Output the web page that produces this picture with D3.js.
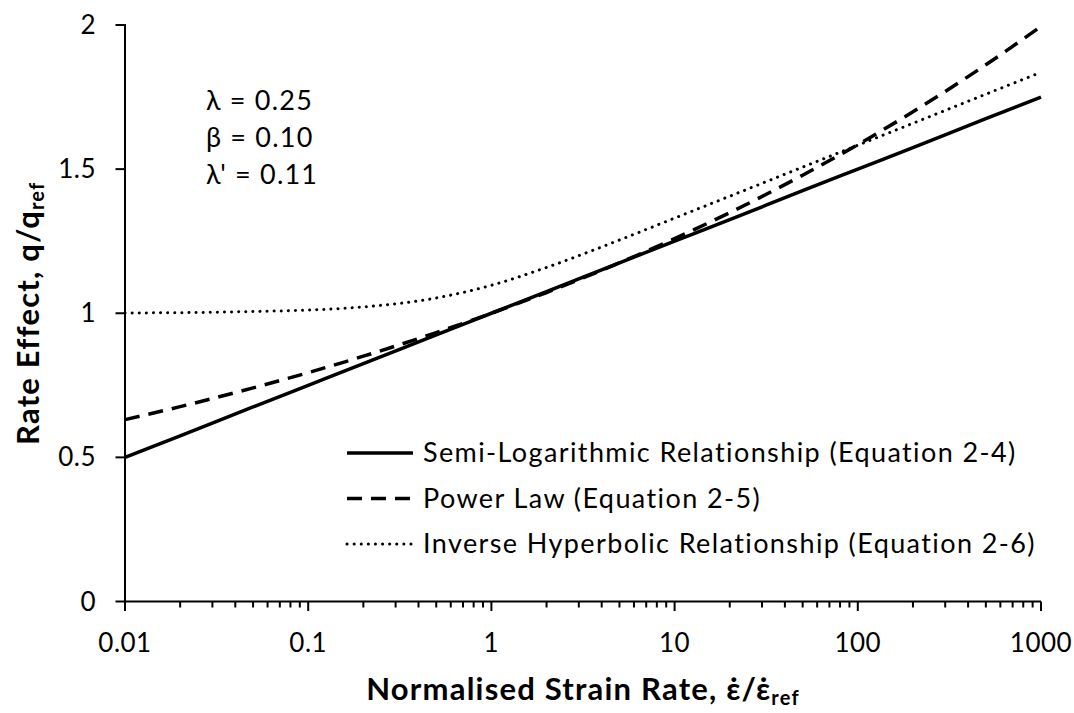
<!DOCTYPE html>
<html>
<head>
<meta charset="utf-8">
<script src="https://cdn.jsdelivr.net/npm/d3@7"></script>
<style>
  html, body { margin: 0; padding: 0; background: #fff; }
  svg { display: block; font-family: Lato, "Open Sans", sans-serif; }
</style>
</head>
<body>
<svg id="chart" width="1074" height="713"></svg>
<script>
// Normalised strain rate values at which each relationship is sampled
const rates = [0.01, 0.02, 0.05, 0.1, 0.2, 0.5, 1, 2, 5, 10, 20, 50, 100, 200, 500, 1000];

// Rate effect q/q_ref for each relationship
const semiLog  = [0.500, 0.575, 0.675, 0.750, 0.825, 0.925, 1.000, 1.075, 1.175, 1.250, 1.325, 1.425, 1.500, 1.575, 1.675, 1.750];
const powerLaw = [0.631, 0.676, 0.741, 0.794, 0.851, 0.933, 1.000, 1.072, 1.175, 1.259, 1.349, 1.479, 1.585, 1.699, 1.862, 1.995];
const invHyper = [1.001, 1.002, 1.006, 1.011, 1.022, 1.053, 1.097, 1.159, 1.254, 1.330, 1.406, 1.507, 1.583, 1.659, 1.760, 1.836];

const seriesNames = [
  "Semi-Logarithmic Relationship (Equation 2-4)",
  "Power Law (Equation 2-5)",
  "Inverse Hyperbolic Relationship (Equation 2-6)"
];

const xTickValues = [0.01, 0.1, 1, 10, 100, 1000];
const xTickLabels = ["0.01", "0.1", "1", "10", "100", "1000"];
const yTickValues = [0, 0.5, 1, 1.5, 2];
const yTickLabels = ["0", "0.5", "1", "1.5", "2"];

const paramLines = ["λ = 0.25", "β = 0.10", "λ' = 0.11"];

const svg = d3.select("#chart");
const plotLeft = 125, plotRight = 1041, plotTop = 25, plotBottom = 601.5;

const x = d3.scaleLog().domain([0.01, 1000]).range([plotLeft, plotRight]);
const y = d3.scaleLinear().domain([0, 2]).range([plotBottom, plotTop]);

// Minor ticks at 2..9 within each decade
const minorTicks = [];
for (let d = 0.01; d < 1000; d *= 10) {
  for (let k = 2; k <= 9; k++) minorTicks.push(+(d * k).toPrecision(6));
}

// x axis
const gx = svg.append("g").attr("transform", `translate(0,${plotBottom})`);
gx.append("line").attr("x1", plotLeft).attr("x2", plotRight).attr("stroke", "#000").attr("stroke-width", 2);
gx.selectAll("line.minor").data(minorTicks).join("line")
  .attr("class", "minor")
  .attr("x1", d => x(d)).attr("x2", d => x(d))
  .attr("y1", 0).attr("y2", 6)
  .attr("stroke", "#000").attr("stroke-width", 2);
gx.selectAll("line.major").data(xTickValues).join("line")
  .attr("class", "major")
  .attr("x1", d => x(d)).attr("x2", d => x(d))
  .attr("y1", 0).attr("y2", 9.5)
  .attr("stroke", "#000").attr("stroke-width", 2);
gx.selectAll("text").data(xTickValues).join("text")
  .attr("x", d => x(d)).attr("y", 50)
  .attr("text-anchor", "middle")
  .attr("font-size", 26)
  .attr("letter-spacing", 0.5)
  .text((d, i) => xTickLabels[i]);

// y axis
const gy = svg.append("g").attr("transform", `translate(${plotLeft},0)`);
gy.append("line").attr("y1", plotTop - 1).attr("y2", plotBottom).attr("stroke", "#000").attr("stroke-width", 2);
gy.selectAll("line.major").data(yTickValues).join("line")
  .attr("class", "major")
  .attr("x1", -9.5).attr("x2", 0)
  .attr("y1", d => y(d)).attr("y2", d => y(d))
  .attr("stroke", "#000").attr("stroke-width", 2);
gy.selectAll("text").data(yTickValues).join("text")
  .attr("x", -29).attr("y", d => y(d))
  .attr("dy", "0.35em")
  .attr("text-anchor", "end")
  .attr("font-size", 26)
  .attr("letter-spacing", 0.5)
  .text((d, i) => yTickLabels[i]);

// Curves
const styles = [
  { width: 3.5, dash: null, cap: "butt" },
  { width: 3.5, dash: "15,9", cap: "butt" },
  { width: 3, dash: "0.1,7", cap: "round" }
];
const seriesValues = [semiLog, powerLaw, invHyper];
const line = d3.line()
  .x(d => x(d[0]))
  .y(d => y(d[1]))
  .curve(d3.curveMonotoneX);

seriesValues.forEach((vals, i) => {
  const pts = rates.map((r, j) => [r, vals[j]]);
  svg.append("path")
    .datum(pts)
    .attr("d", line)
    .attr("fill", "none")
    .attr("stroke", "#000")
    .attr("stroke-width", styles[i].width)
    .attr("stroke-dasharray", styles[i].dash)
    .attr("stroke-linecap", styles[i].cap);
});

// Parameter annotations
svg.append("g").selectAll("text").data(paramLines).join("text")
  .attr("x", 206)
  .attr("y", (d, i) => 110 + i * 37)
  .attr("font-size", 27)
  .attr("letter-spacing", 1.2)
  .text(d => d);

// Legend
const legend = svg.append("g");
seriesNames.forEach((name, i) => {
  const ly = 453 + i * 45.5;
  legend.append("line")
    .attr("x1", 347).attr("x2", 413)
    .attr("y1", ly).attr("y2", ly)
    .attr("stroke", "#000")
    .attr("stroke-width", styles[i].width)
    .attr("stroke-dasharray", styles[i].dash)
    .attr("stroke-linecap", styles[i].cap);
  legend.append("text")
    .attr("x", 423).attr("y", ly)
    .attr("dy", "0.35em")
    .attr("font-size", 27)
    .attr("letter-spacing", 1.4)
    .text(name);
});

// Axis titles
const xt = svg.append("text")
  .attr("x", (plotLeft + plotRight) / 2).attr("y", 700)
  .attr("text-anchor", "middle")
  .attr("font-size", 31).attr("font-weight", "bold")
  .attr("letter-spacing", 1.2);
xt.append("tspan").text("Normalised Strain Rate, ε\u0307/ε\u0307");
xt.append("tspan").attr("font-size", 20).attr("dy", 5).text("ref");

const yt = svg.append("text")
  .attr("transform", `translate(39,${(plotTop + plotBottom) / 2}) rotate(-90)`)
  .attr("text-anchor", "middle")
  .attr("font-size", 31).attr("font-weight", "bold")
  .attr("letter-spacing", 1.2);
yt.append("tspan").text("Rate Effect, q/q");
yt.append("tspan").attr("font-size", 20).attr("dy", 5).text("ref");
</script>
</body>
</html>
